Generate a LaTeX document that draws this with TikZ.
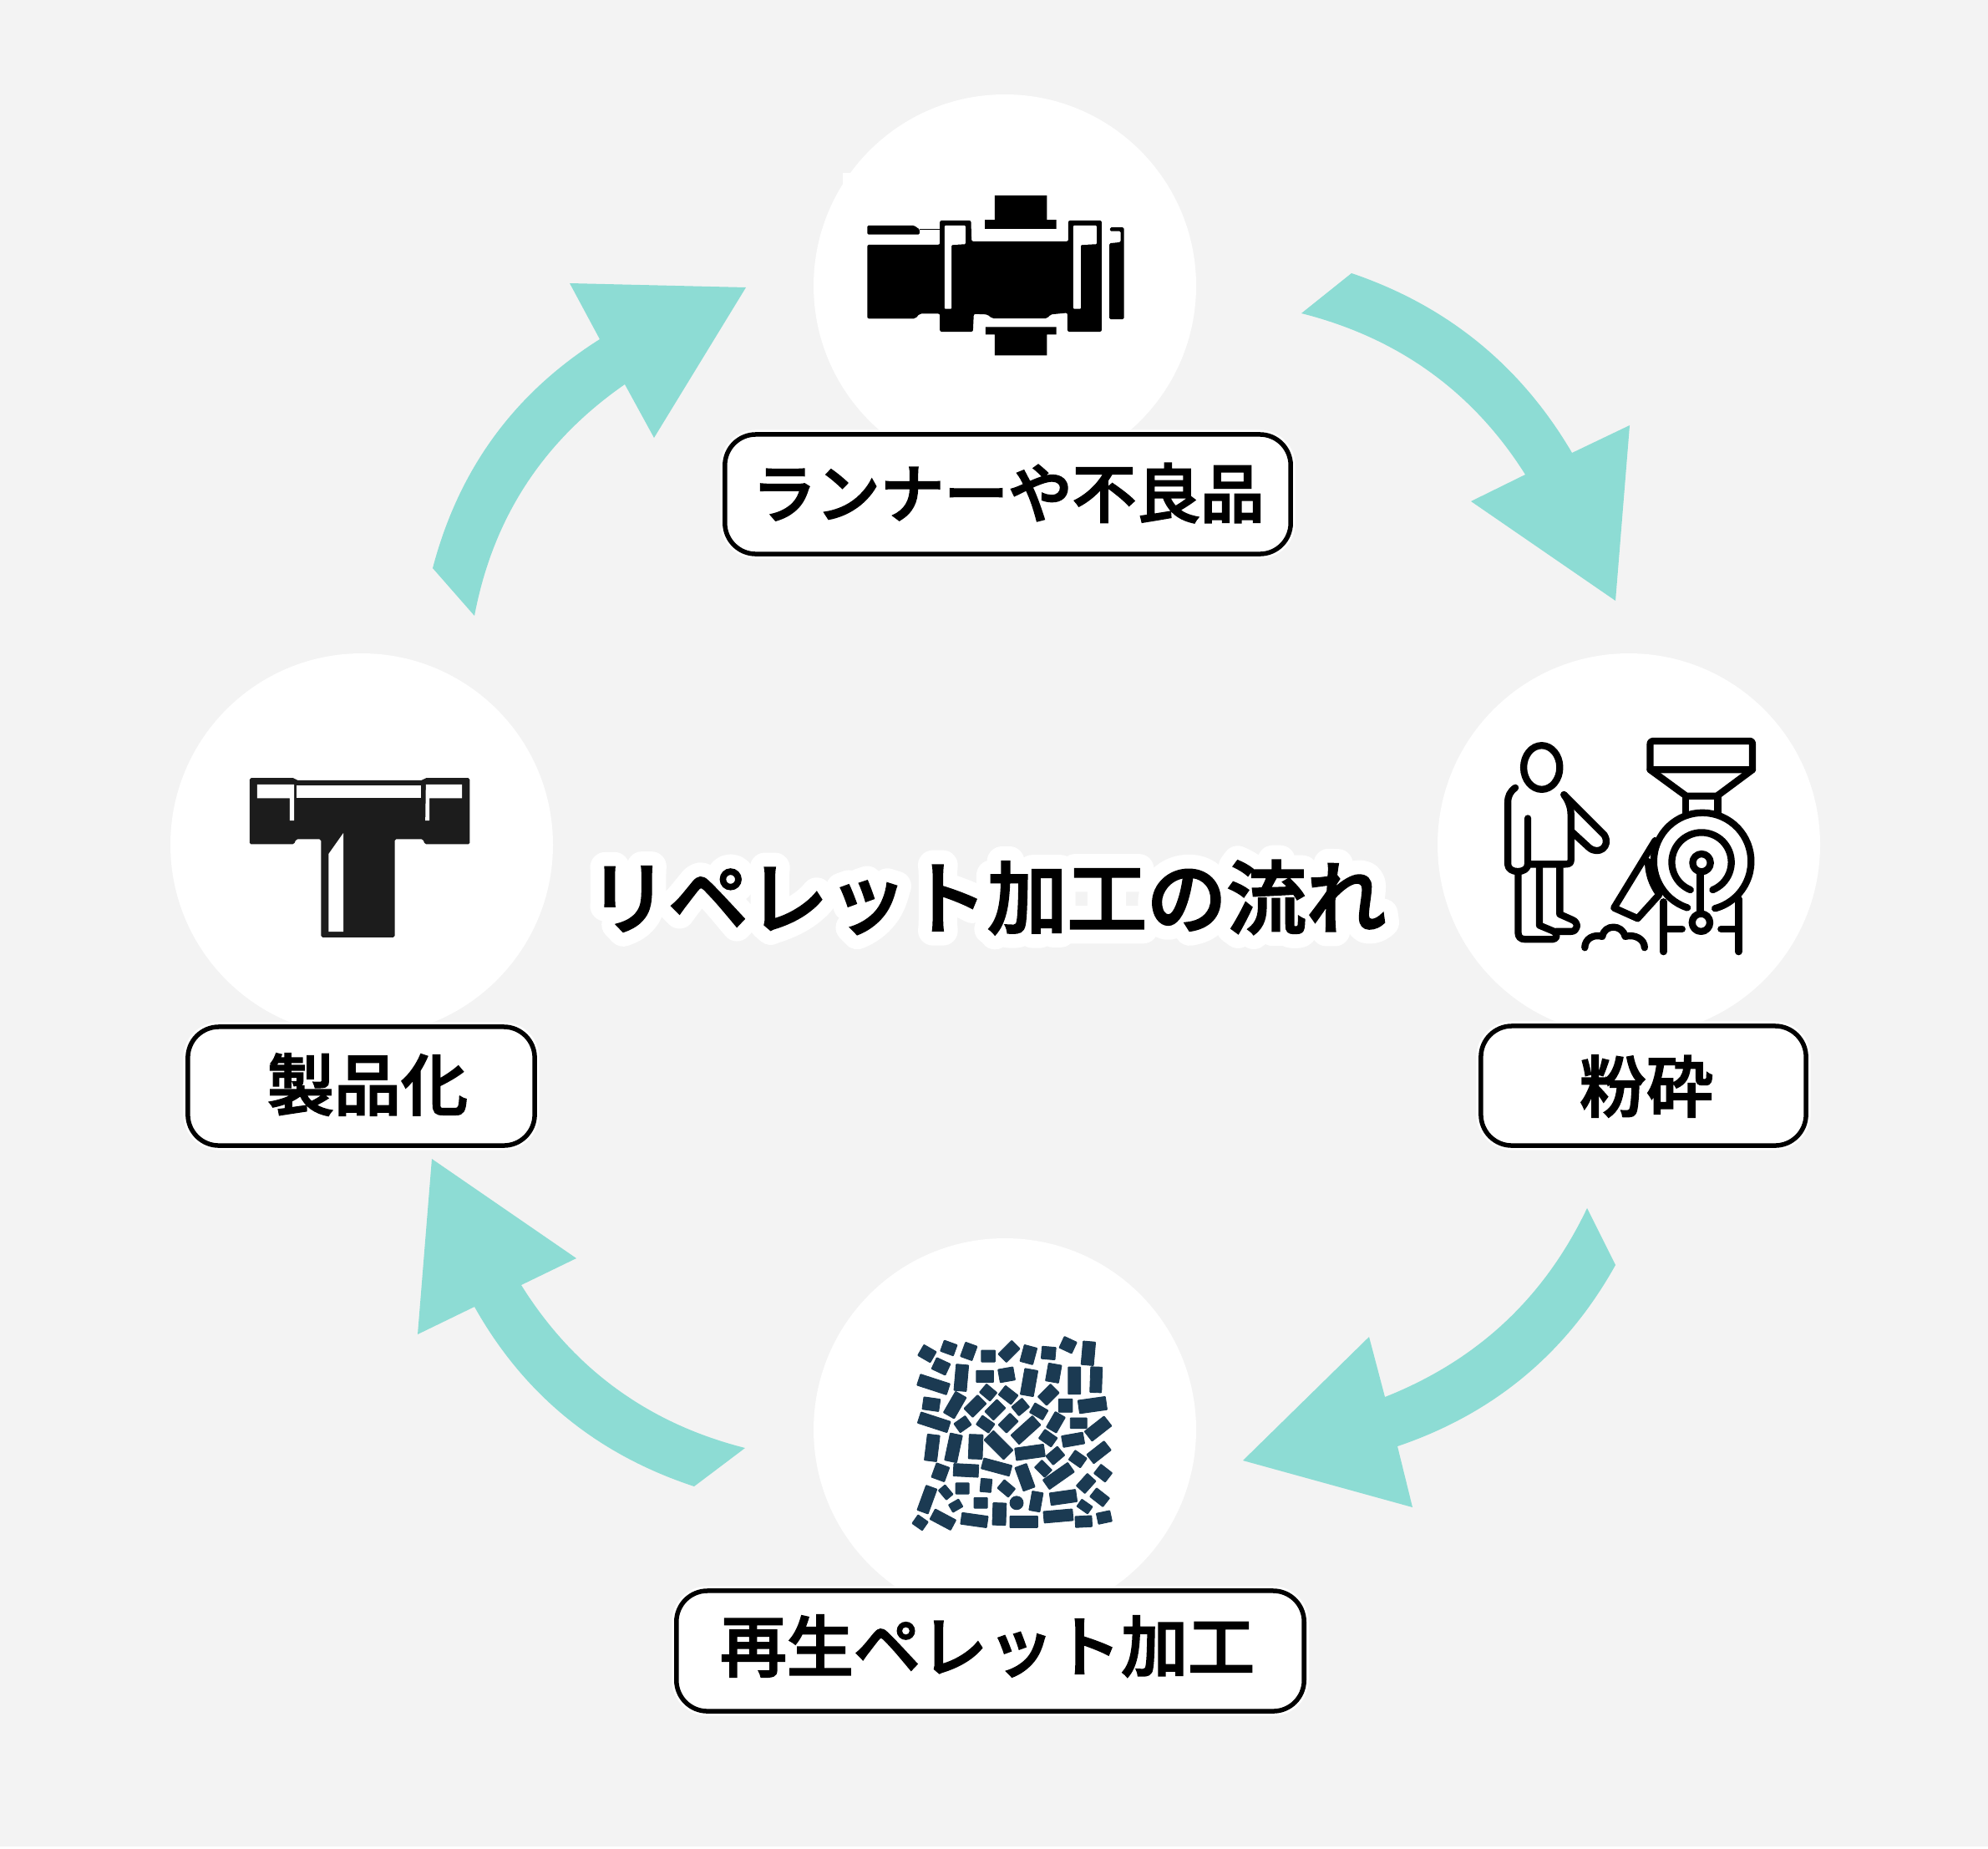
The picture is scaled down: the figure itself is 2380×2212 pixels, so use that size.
\documentclass[tikz,border=0pt]{standalone}
\usepackage{fontspec}
\newfontfamily\cjk{Noto Sans CJK JP Medium}
\definecolor{bgc}{HTML}{F3F3F3}
\definecolor{teal}{HTML}{8DDCD4}
\definecolor{pelletc}{HTML}{1B3A52}
\definecolor{tee}{HTML}{1C1C1C}
\newcommand\haloon{\special{pdf:code 2 Tr 1 1 1 RG 1 1 1 rg 1 j 1 J 10.2 w}}
\newcommand\heavier[1]{\special{pdf:code 2 Tr 0 0 0 RG 0 0 0 rg 0 j #1 w}}
\tikzset{
  disc/.style={fill=white},
  flow/.style={fill=teal},
  labelbox/.style={draw=black,fill=white,line width=.055cm,rounded corners=.37cm,inner sep=0pt,
     preaction={draw=white,line width=.11cm}},
  labeltext/.style={font=\cjk\fontsize{22.76}{26}\selectfont,inner sep=0pt,text=black},
  titletext/.style={font=\cjk\fontsize{27.15}{30}\selectfont,inner sep=0pt,text=black},
  iconline/.style={draw=black,line width=.083cm,line cap=round,line join=round},
  pellet/.style={fill=pelletc,draw=pelletc,line width=.25pt},
}
\begin{document}
\begin{tikzpicture}[x=.01cm,y=-.01cm]
\useasboundingbox (0,0) rectangle (2380,2212);
\fill[bgc] (0,0) rectangle (2380,2212);
\fill[white] (0,2210) rectangle (2380,2212);
% discs
\fill[disc] (1203,342) circle[radius=229];
\fill[disc] (1009,207) rectangle (1022,222);
\fill[disc] (1950,1011) circle[radius=229];
\fill[disc] (1203,1711) circle[radius=229];
\fill[disc] (433,1011) circle[radius=229];
% arrows
\fill[flow] (518,680) .. controls (549,562) and (615,471) .. (718,406) -- (682,339) -- (893,344) -- (783,524) -- (748,460)
  .. controls (650,528) and (590,620) .. (568,737) -- cycle;
\fill[flow] (1618,327) .. controls (1733,366) and (1821,438) .. (1882,542) -- (1951,509) -- (1934,719) -- (1761,600) -- (1826,568)
  .. controls (1763,468) and (1673,404) .. (1558,375) -- cycle;
\fill[flow] (1900,1446) .. controls (1849,1553) and (1769,1628) .. (1658,1672) -- (1639,1600) -- (1488,1748) -- (1691,1804) -- (1673,1731)
  .. controls (1788,1692) and (1875,1620) .. (1934,1514) -- cycle;
\fill[flow] (892,1733) .. controls (777,1704) and (687,1639) .. (624,1538) -- (690,1506) -- (517,1387) -- (500,1597) -- (568,1564)
  .. controls (627.5,1670) and (715.5,1741) .. (831,1779) -- cycle;
% label boxes
\node[labelbox,minimum width=6.77cm,minimum height=1.43cm] (boxa) at (1206.5,591.5) {};
\node[labelbox,minimum width=4.15cm,minimum height=1.42cm] (boxb) at (432.5,1300) {};
\node[labelbox,minimum width=3.89cm,minimum height=1.43cm] (boxc) at (1967.5,1299.5) {};
\node[labelbox,minimum width=7.51cm,minimum height=1.44cm] (boxd) at (1185.5,1976) {};
\node[labeltext,font=\cjk\fontsize{21.8}{26}\selectfont] (lbla) at (1207,590) {\heavier{.55}ランナーや不良品};
\node[labeltext] (lblb) at (440,1298) {\heavier{.55}製品化};
\node[labeltext] (lblc) at (1971,1300) {\heavier{.55}粉砕};
\node[labeltext] (lbld) at (1182,1970) {\heavier{.55}再生ペレット加工};
% title with white halo
\node[titletext,text=white] (halo) at (1182,1074) {\haloon リペレット加工の流れ};
\node[titletext] (title) at (1182,1074) {\heavier{.7}リペレット加工の流れ};
% valve icon
\begin{scope}[x=.0033333cm,y=-.0033333cm,shift={(2883,303)}]
\fill[black,rounded corners=.6pt] (237,577) -- (498,577) -- (498,490) -- (610,490) -- (612,565) -- (960,565) -- (960,490) -- (1080,490) -- (1080,890) -- (957,890) -- (957,822) -- (895,828) -- (885,842) -- (685,842) -- (670,828) -- (620,826) -- (617,890) -- (498,890) -- (498,825) -- (425,825) -- (410,843) -- (237,843) -- cycle;
\fill[white,rounded corners=.3pt] (515,508) -- (590,508) -- (590,575) -- (540,578) -- (540,808) -- (515,808) -- cycle;
\fill[white,rounded corners=.3pt] (978,508) -- (1062,508) -- (1062,575) -- (1005,578) -- (1005,808) -- (978,808) -- cycle;
\fill[black,rounded corners=.4pt] (237,508) -- (405,508) -- (425,522) -- (425,540) -- (237,540) -- cycle;
\draw[black,line width=.006cm] (425,522) -- (500,522);
\fill[black] (695,400) -- (883,400) -- (883,488) -- (917,488) -- (917,520) -- (660,520) -- (660,488) -- (695,488) -- cycle;
\fill[black] (662,873) -- (917,873) -- (917,900) -- (883,900) -- (883,975) -- (695,975) -- (695,900) -- (662,900) -- cycle;
\fill[black,rounded corners=.4pt] (1108,572) -- (1148,568) -- (1148,528) -- (1110,528) -- (1110,515) -- (1160,515) -- (1160,845) -- (1108,845) -- cycle;
\end{scope}
% grinder icon
\begin{scope}[x=.0033333cm,y=-.0033333cm,shift={(5286,2553)}]
\draw[iconline] (260,207) ellipse[x radius=65,y radius=79];
\draw[iconline] (165,280) .. controls (145,295) and (138,310) .. (138,335) -- (138,555) .. controls (138,590) and (210,590) .. (210,555) -- (210,390);
\draw[iconline] (210,555) -- (345,555) .. controls (360,555) and (365,550) .. (365,540) -- (365,375) .. controls (365,350) and (355,325) .. (340,305);
\draw[iconline] (340,305) -- (485,450) .. controls (510,490) and (465,525) .. (430,495) -- (370,440);
\draw[iconline] (175,585) -- (175,800) .. controls (175,818) and (185,825) .. (200,825) -- (300,825) .. controls (318,825) and (318,800) .. (300,795) -- (252,775) -- (252,565);
\draw[iconline] (325,565) -- (325,735) -- (370,755) .. controls (395,765) and (390,797) .. (365,797) -- (310,797);
\draw[iconline] (665,112) -- (1005,112) .. controls (1015,112) and (1018,115) .. (1018,125) -- (1018,215) -- (650,215) -- (650,125) .. controls (650,115) and (655,112) .. (665,112) -- cycle;
\draw[iconline] (650,215) -- (780,310) -- (890,310) -- (1018,215);
\draw[iconline] (778,310) -- (778,375);
\draw[iconline] (893,310) -- (893,375);
\draw[iconline] ([shift={(108:175)}]838,545) arc[start angle=108,end angle=435,radius=175];
\draw[iconline] ([shift={(144:195)}]838,545) arc[start angle=144,end angle=180,radius=195];
\draw[iconline] ([shift={(112:107)}]835,548) arc[start angle=112,end angle=428,radius=107];
\draw[iconline] (835,550) circle[radius=32];
\draw[iconline] (833,765) circle[radius=32];
\draw[iconline] (830,585) -- (830,733);
\draw[iconline] (668,470) -- (520,712) -- (605,750) -- (682,665);
\draw[iconline] (698,690) -- (698,870);
\draw[iconline] (968,680) -- (968,870);
\draw[iconline] (698,788) -- (765,788);
\draw[iconline] (905,788) -- (968,788);
\draw[iconline] (415,855) .. controls (415,825) and (445,805) .. (478,815) .. controls (485,770) and (550,770) .. (560,815) .. controls (595,805) and (630,825) .. (630,855);
\end{scope}
% pellets icon
\begin{scope}[x=.0033333cm,y=-.0033333cm,shift={(3180,4710)}]
\foreach \cx/\cy/\w/\h/\a in {
155/158/52/45/-30, 233/138/50/42/-20, 305/150/55/45/70, 375/167/50/42/0, 450/150/70/42/45,
520/162/62/48/75, 592/156/50/45/-5, 662/127/50/45/-25, 735/157/85/45/85, 205/204/55/45/-25,
278/245/95/45/85, 363/240/62/43/0, 441/234/55/48/10, 522/262/95/48/80, 610/228/65/48/80,
685/255/98/45/90, 763/252/92/42/88, 178/269/112/42/-18, 375/298/50/40/-40, 447/307/58/42/-38,
592/306/65/45/45, 170/340/60/45/-8, 255/343/88/45/60, 328/347/70/45/45, 400/360/62/45/45,
491/350/50/42/40, 557/366/55/40/-30, 653/345/50/48/0, 750/343/100/48/8, 180/405/112/42/-18,
283/412/50/40/35, 365/412/55/40/-35, 447/408/60/42/45, 510/433/105/45/42, 618/405/65/42/60,
700/408/60/38/0, 770/428/90/45/38, 590/462/55/40/-35, 680/468/78/42/10, 173/497/95/45/83,
250/497/100/45/78, 330/493/88/50/88, 412/487/100/48/-45, 525/513/105/45/8, 616/525/55/42/40,
697/537/52/42/-35, 773/513/80/42/38, 203/585/55/50/70, 295/578/90/45/-3, 405/566/105/40/-15,
507/603/90/45/-70, 573/572/52/38/-45, 628/598/110/42/35, 788/588/52/42/-38, 155/683/95/42/70,
222/657/45/32/-50, 282/643/48/40/0, 367/632/48/40/85, 440/643/52/40/-40, 727/625/60/42/48,
645/675/95/45/8, 776/675/60/40/-38, 258/705/42/32/30, 348/695/48/38/0, 547/690/70/40/80,
722/708/48/32/-35, 212/755/85/42/-28, 325/757/95/42/-8, 415/735/80/48/88, 503/763/100/42/0,
627/742/105/42/5, 718/762/60/40/3, 792/747/50/40/12, 130/766/45/38/-35}
{ \filldraw[pellet,rounded corners=.2pt,shift={(\cx,\cy)},rotate=\a] (-\w/2,-\h/2) rectangle (\w/2,\h/2); }
\filldraw[pellet] (477,695) circle[radius=24];
\end{scope}
% tee icon
\begin{scope}[x=.0033333cm,y=-.0033333cm,shift={(810,2706)}]
\fill[tee,rounded corners=.5pt] (88,92) -- (250,92) -- (255,100) -- (712,100) -- (718,92) -- (880,92) -- (880,330) -- (718,330) -- (712,312) -- (610,312) -- (610,665) -- (345,665) -- (345,312) -- (255,312) -- (248,330) -- (88,330) -- cycle;
\fill[white] (115,115) -- (248,115) -- (248,245) -- (232,245) -- (232,165) -- (115,165) -- cycle;
\fill[white] (258,120) -- (705,120) -- (705,165) -- (258,165) -- cycle;
\fill[white] (722,115) -- (852,115) -- (852,165) -- (735,165) -- (735,245) -- (720,245) -- cycle;
\fill[white] (425,290) -- (425,645) -- (372,645) -- (372,365) -- cycle;
\end{scope}
\end{tikzpicture}
\end{document}
